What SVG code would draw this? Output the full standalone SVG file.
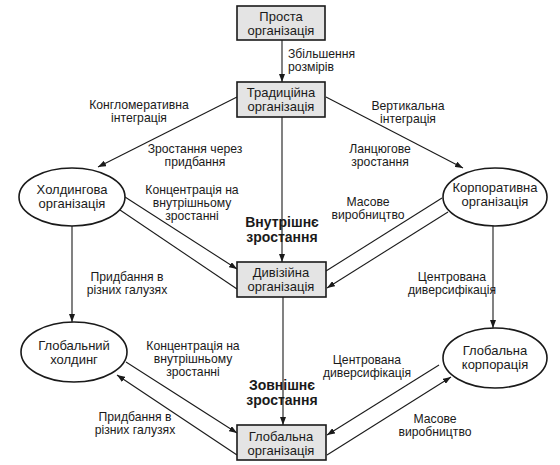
<svg xmlns="http://www.w3.org/2000/svg" width="560" height="465" viewBox="0 0 560 465">
<defs>
<marker id="ah" markerWidth="8" markerHeight="6" refX="8" refY="3" orient="auto" markerUnits="userSpaceOnUse">
<path d="M0,0 L8,3 L0,6 z" fill="#1a1a1a"/>
</marker>
<style>
.box{fill:#e4e4e4;stroke:#1a1a1a;stroke-width:1.6}
.ell{fill:#ffffff;stroke:#1a1a1a;stroke-width:1.6}
.nt{font-family:"Liberation Sans",Arial,sans-serif;font-size:13px;fill:#1a1a1a;text-anchor:middle}
.lb{font-family:"Liberation Sans",Arial,sans-serif;font-size:12.2px;fill:#1a1a1a;text-anchor:middle}
.st{text-anchor:start}
.bd{font-family:"Liberation Sans",Arial,sans-serif;font-size:14px;font-weight:bold;fill:#1a1a1a;text-anchor:middle}
.c{stroke:#1a1a1a;stroke-width:1.1;fill:none}
.a{marker-end:url(#ah)}
</style>
</defs>
<rect width="560" height="465" fill="#ffffff"/>

<g id="connectors">
<line class="c a" x1="282" y1="40" x2="282" y2="82"/>
<line class="c a" x1="237" y1="97" x2="98" y2="167"/>
<line class="c a" x1="326" y1="97" x2="463" y2="168"/>
<line class="c a" x1="282" y1="117" x2="282" y2="262"/>
<line class="c a" x1="125" y1="197" x2="237" y2="269"/>
<line class="c" x1="120" y1="210" x2="237" y2="289"/>
<line class="c" x1="442" y1="198" x2="326" y2="271"/>
<line class="c a" x1="448" y1="212" x2="327" y2="288"/>
<line class="c a" x1="72" y1="226" x2="72" y2="322"/>
<line class="c a" x1="493" y1="226" x2="493" y2="328"/>
<line class="c a" x1="283" y1="297" x2="283" y2="425"/>
<line class="c a" x1="126" y1="362" x2="237" y2="433"/>
<line class="c a" x1="237" y1="455" x2="117" y2="375"/>
<line class="c a" x1="439" y1="365" x2="327" y2="435"/>
<line class="c a" x1="327" y1="455" x2="451" y2="377"/>
</g>

<g id="prosta">
<rect class="box" x="237" y="6" width="88" height="34"/>
<text class="nt" x="281" y="21">Проста</text>
<text class="nt" x="281" y="35">організація</text>
</g>
<g id="tradytsiina">
<rect class="box" x="237" y="82" width="88" height="35"/>
<text class="nt" x="281" y="97">Традиційна</text>
<text class="nt" x="281" y="111">організація</text>
</g>
<g id="dyviziina">
<rect class="box" x="237" y="262" width="89" height="35"/>
<text class="nt" x="281" y="277">Дивізійна</text>
<text class="nt" x="281" y="291">організація</text>
</g>
<g id="globalna-org">
<rect class="box" x="237" y="425" width="89" height="35"/>
<text class="nt" x="281" y="441">Глобальна</text>
<text class="nt" x="281" y="455">організація</text>
</g>
<g id="holdyngova">
<ellipse class="ell" cx="72" cy="197" rx="53" ry="29"/>
<text class="nt" x="72" y="194">Холдингова</text>
<text class="nt" x="72" y="208">організація</text>
</g>
<g id="korporatyvna">
<ellipse class="ell" cx="495" cy="197" rx="52" ry="29"/>
<text class="nt" x="495" y="192">Корпоративна</text>
<text class="nt" x="495" y="206">організація</text>
</g>
<g id="glob-holding">
<ellipse class="ell" cx="74" cy="352" rx="53" ry="30"/>
<text class="nt" x="74" y="350">Глобальний</text>
<text class="nt" x="74" y="364">холдинг</text>
</g>
<g id="glob-korp">
<ellipse class="ell" cx="495" cy="358" rx="52" ry="30"/>
<text class="nt" x="495" y="355">Глобальна</text>
<text class="nt" x="495" y="369">корпорація</text>
</g>

<g id="labels">
<text class="lb st" x="288" y="58">Збільшення</text>
<text class="lb st" x="288" y="71">розмірів</text>
<text class="lb" x="139" y="109">Конгломеративна</text>
<text class="lb" x="139" y="122">інтеграція</text>
<text class="lb" x="408" y="110">Вертикальна</text>
<text class="lb" x="408" y="123">інтеграція</text>
<text class="lb" x="195" y="153">Зростання через</text>
<text class="lb" x="195" y="166">придбання</text>
<text class="lb" x="380" y="153">Ланцюгове</text>
<text class="lb" x="380" y="166">зростання</text>
<text class="lb" x="192" y="194">Концентрація на</text>
<text class="lb" x="192" y="207">внутрішньому</text>
<text class="lb" x="192" y="220">зростанні</text>
<text class="lb" x="368" y="206">Масове</text>
<text class="lb" x="368" y="219">виробництво</text>
<text class="bd" x="282" y="227">Внутрішнє</text>
<text class="bd" x="282" y="242">зростання</text>
<text class="lb" x="127" y="281">Придбання в</text>
<text class="lb" x="127" y="294">різних галузях</text>
<text class="lb" x="452" y="281">Центрована</text>
<text class="lb" x="452" y="294">диверсифікація</text>
<text class="lb" x="193" y="350">Концентрація на</text>
<text class="lb" x="193" y="363">внутрішньому</text>
<text class="lb" x="193" y="376">зростанні</text>
<text class="bd" x="282" y="390">Зовнішнє</text>
<text class="bd" x="282" y="405">зростання</text>
<text class="lb" x="367" y="364">Центрована</text>
<text class="lb" x="367" y="377">диверсифікація</text>
<text class="lb" x="135" y="421">Придбання в</text>
<text class="lb" x="135" y="434">різних галузях</text>
<text class="lb" x="435" y="423">Масове</text>
<text class="lb" x="435" y="436">виробництво</text>
</g>
</svg>
